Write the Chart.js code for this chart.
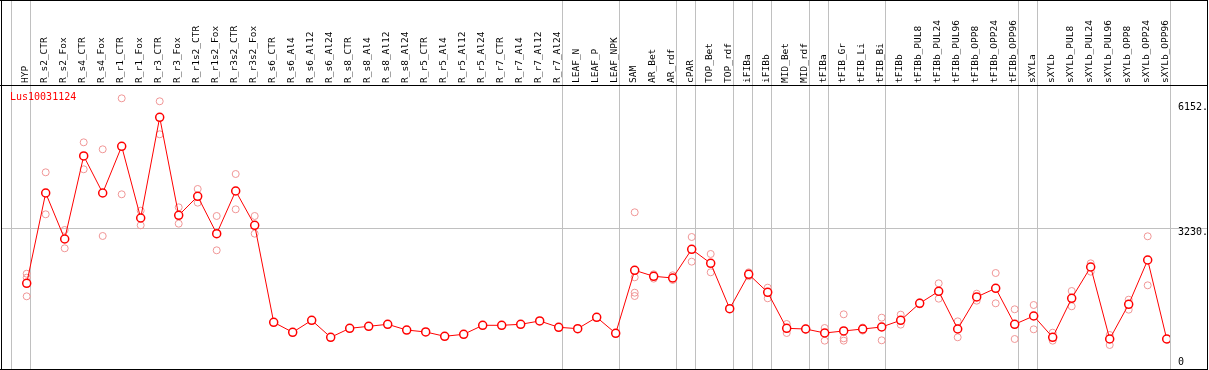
<!DOCTYPE html>
<html>
<head>
<meta charset="utf-8">
<script src="https://cdn.jsdelivr.net/npm/chart.js@4"></script>
<style>
  html, body { margin: 0; padding: 0; background: #fff; }
  #wrap { width: 1209px; height: 370px; }
</style>
</head>
<body>
<div id="wrap"><canvas id="myChart" width="1209" height="370"></canvas></div>
<script>
const probeName = 'Lus10031124';

const samples = [
  'HYP', 'R_s2_CTR', 'R_s2_Fox', 'R_s4_CTR', 'R_s4_Fox', 'R_r1_CTR', 'R_r1_Fox', 'R_r3_CTR', 'R_r3_Fox',
  'R_r1s2_CTR', 'R_r1s2_Fox', 'R_r3s2_CTR', 'R_r3s2_Fox', 'R_s6_CTR', 'R_s6_Al4', 'R_s6_Al12', 'R_s6_Al24',
  'R_s8_CTR', 'R_s8_Al4', 'R_s8_Al12', 'R_s8_Al24', 'R_r5_CTR', 'R_r5_Al4', 'R_r5_Al12', 'R_r5_Al24',
  'R_r7_CTR', 'R_r7_Al4', 'R_r7_Al12', 'R_r7_Al24', 'LEAF_N', 'LEAF_P', 'LEAF_NPK', 'SAM', 'AR_Bet', 'AR_rdf',
  'cPAR', 'TOP_Bet', 'TOP_rdf', 'iFIBa', 'iFIBb', 'MID_Bet', 'MID_rdf', 'tFIBa', 'tFIB_Gr', 'tFIB_Li', 'tFIB_Bi',
  'tFIBb', 'tFIBb_PUL8', 'tFIBb_PUL24', 'tFIBb_PUL96', 'tFIBb_OPP8', 'tFIBb_OPP24', 'tFIBb_OPP96',
  'sXYLa', 'sXYLb', 'sXYLb_PUL8', 'sXYLb_PUL24', 'sXYLb_PUL96', 'sXYLb_OPP8', 'sXYLb_OPP24', 'sXYLb_OPP96'
];

// mean expression per sample
const meanValues = [
  1963, 4032, 2978, 4880, 4032, 5101, 3459, 5766, 3521, 3956, 3100, 4078, 3292,
  1070, 841, 1116, 726, 932, 978, 1024, 893, 848, 749, 795, 1001, 1001, 1024, 1100, 955,
  924, 1184, 817, 2261, 2124, 2085, 2742, 2421, 1382, 2169, 1757, 932, 916,
  825, 871, 916, 962, 1116, 1505, 1780, 916, 1650, 1849, 1024,
  1214, 726, 1620, 2337, 687, 1482, 2497, 687
];

// replicates (null where hidden behind the mean marker)
const rep1 = [
  2183, 4506, 3185, 5193, 5033, 6201, 3627, 6133, 3704, 4124, 3505, 4467, 3505,
  null, null, null, null, null, null, null, null, null, null, null, null, null, null, null, null,
  null, null, null, 3590, 2170, 2147, 3024, 2635, null, 2215, 1863, 1031, 930,
  939, 1253, 950, 1176, 1245, 1530, 1963, 1092, 1726, 2199, 1368,
  1466, 832, 1787, 2421, 779, 1588, 3040, null
];
const rep2 = [
  2092, 3544, 2765, 4575, 3047, 4002, 3292, 5377, 3329, 3810, 2719, 3658, 3100,
  null, null, null, null, null, null, null, null, null, null, null, null, null, null, null, null,
  null, null, null, 2101, 2070, 2039, 2459, 2215, null, 2125, 1620, 825, 900,
  649, 703, 880, 657, 1016, 1480, 1611, 726, 1565, 1505, 687,
  909, 649, 1436, 2229, 550, 1359, 1917, null
];
const rep3 = [
  1665, null, null, null, null, null, null, null, null, null, null, null, null,
  null, null, null, null, null, null, null, null, null, null, null, null, null, null, null, null,
  null, null, null, 1748, null, null, null, null, null, null, null, null, null,
  null, 649, null, null, null, null, null, null, null, null, null,
  null, null, null, null, null, null, null, null
];
const rep4 = [
  null, null, null, null, null, null, null, null, null, null, null, null, null,
  null, null, null, null, null, null, null, null, null, null, null, null, null, null, null, null,
  null, null, null, 1672, null, null, null, null, null, null, null, null, null,
  null, null, null, null, null, null, null, null, null, null, null,
  null, null, null, null, null, null, null, null
];

const yTicks = [0, 3230, 6152];
// last sample index of each group (a separator line follows it)
const groupEnds = [-1, 0, 28, 31, 34, 35, 37, 38, 39, 41, 42, 45, 52, 53, 60];

const monoFont = 'DejaVu Sans Mono';
const repColor = 'rgb(240,150,150)';
const gridColor = '#c0c0c0';

const toPoints = arr => arr.map((v, i) => ({ x: i, y: v }));

function repDataset(arr) {
  return {
    type: 'line',
    data: toPoints(arr),
    showLine: false,
    pointRadius: 3.5,
    pointBorderWidth: 1,
    pointBorderColor: repColor,
    pointBackgroundColor: 'rgba(0,0,0,0)',
    order: 2
  };
}

function noPadding(scale) {
  scale.paddingLeft = 0;
  scale.paddingRight = 0;
  scale.paddingTop = 0;
  scale.paddingBottom = 0;
}

const framePlugin = {
  id: 'frame',
  afterDraw(chart) {
    const ctx = chart.ctx;
    const area = chart.chartArea;
    ctx.save();
    ctx.strokeStyle = '#000';
    ctx.lineWidth = 1;
    ctx.beginPath();
    ctx.moveTo(0, 0.5); ctx.lineTo(1208, 0.5);
    ctx.moveTo(1.5, 0); ctx.lineTo(1.5, 370);
    ctx.moveTo(1207.5, 0); ctx.lineTo(1207.5, 370);
    ctx.moveTo(0, area.top + 0.5); ctx.lineTo(1208, area.top + 0.5);
    ctx.moveTo(0, area.bottom + 0.5); ctx.lineTo(1208, area.bottom + 0.5);
    ctx.stroke();
    ctx.fillStyle = 'red';
    ctx.font = '10px "' + monoFont + '"';
    ctx.textBaseline = 'middle';
    ctx.fillText(probeName, area.left + 8, area.top + 12);
    ctx.restore();
  }
};

const chartContext = document.getElementById('myChart').getContext('2d');
const myChart = new Chart(chartContext, {
  type: 'line',
  data: {
    datasets: [
      {
        data: toPoints(meanValues),
        borderColor: 'red',
        borderWidth: 1,
        pointRadius: 4,
        pointBorderWidth: 1.5,
        pointBorderColor: 'red',
        pointBackgroundColor: '#fff',
        tension: 0,
        order: 1
      },
      repDataset(rep1),
      repDataset(rep2),
      repDataset(rep3),
      repDataset(rep4)
    ]
  },
  options: {
    responsive: false,
    animation: false,
    devicePixelRatio: 1,
    layout: { autoPadding: false, padding: { left: 2, right: 0, top: 0, bottom: 1 } },
    plugins: { legend: { display: false }, tooltip: { enabled: false } },
    scales: {
      x: {
        type: 'linear',
        position: 'top',
        weight: 1,
        min: -1.3,
        max: 60.174,
        afterBuildTicks: scale => { scale.ticks = samples.map((s, i) => ({ value: i })); },
        afterFit: scale => { scale.height = 85; noPadding(scale); },
        grid: { display: false, drawTicks: false },
        border: { display: false },
        ticks: {
          autoSkip: false,
          minRotation: 90,
          maxRotation: 90,
          padding: 2,
          labelOffset: 10.5,
          color: '#000',
          font: { family: monoFont, size: 9.5 },
          callback: v => samples[v]
        }
      },
      xGroups: {
        type: 'linear',
        position: 'top',
        weight: 0,
        min: -1.3,
        max: 60.174,
        afterBuildTicks: scale => { scale.ticks = groupEnds.map(g => ({ value: g + 4 / 19 })); },
        afterFit: scale => { scale.height = 0; noPadding(scale); },
        grid: { color: gridColor, lineWidth: 1, drawTicks: true, tickLength: 85 },
        border: { display: false },
        ticks: { display: false }
      },
      y: {
        position: 'right',
        min: 0,
        max: 6506,
        afterBuildTicks: scale => { scale.ticks = yTicks.map(v => ({ value: v })); },
        afterFit: scale => { scale.width = 39; noPadding(scale); },
        grid: {
          color: c => (c.tick && c.tick.value === 3230 ? gridColor : 'rgba(0,0,0,0)'),
          drawTicks: true,
          tickLength: 37
        },
        border: { display: false },
        ticks: {
          padding: -29,
          color: '#000',
          font: c => ({
            family: monoFont,
            size: 10,
            lineHeight: c.tick && c.tick.value === 3230 ? '8px' : '14px'
          }),
          callback: v => (v === 0 ? ['0', ''] : ['', v + '.'])
        }
      }
    }
  },
  plugins: [framePlugin]
});
</script>
</body>
</html>
